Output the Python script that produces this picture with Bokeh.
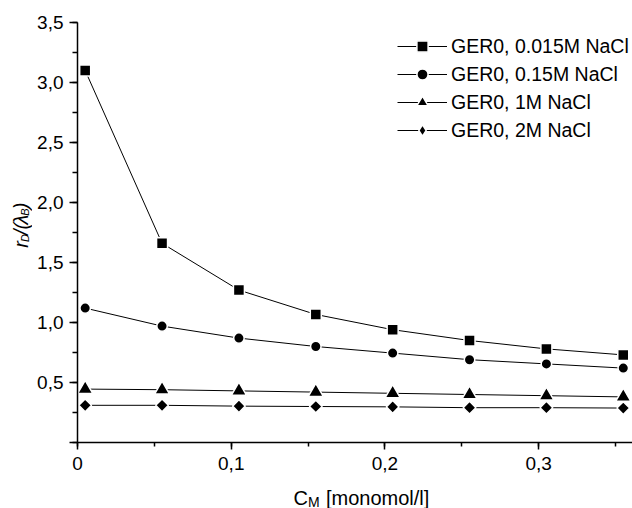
import numpy as np
from bokeh.plotting import figure
from bokeh.layouts import row, column
from bokeh.models import (Label, Legend, LegendItem, SingleIntervalTicker,
                          CustomJSTickFormatter, Range1d)
from bokeh.embed import file_html
from bokeh.resources import INLINE

FONT = "Liberation Sans"

# data
c_m = [0.005, 0.055, 0.105, 0.155, 0.205, 0.255, 0.305, 0.355]
ger0_0015 = [3.10, 1.66, 1.27, 1.067, 0.94, 0.85, 0.78, 0.73]
ger0_015 = [1.12, 0.97, 0.87, 0.80, 0.745, 0.69, 0.655, 0.62]
ger0_1 = [0.445, 0.44, 0.43, 0.42, 0.41, 0.40, 0.39, 0.38]
ger0_2 = [0.31, 0.31, 0.303, 0.30, 0.297, 0.29, 0.29, 0.287]
series_labels = ["GER0, 0.015M NaCl", "GER0, 0.15M NaCl", "GER0, 1M NaCl", "GER0, 2M NaCl"]

W, H = 632, 508
YLAB_W = 32
XLAB_H = 26
MAIN_H = H - XLAB_H

p = figure(width=W - YLAB_W, height=MAIN_H, output_backend="svg", toolbar_location=None,
           x_range=Range1d(0, 0.361), y_range=Range1d(0, 3.5),
           min_border_left=77 - YLAB_W, min_border_right=0, min_border_top=22,
           min_border_bottom=40)
p.outline_line_color = None
p.xgrid.visible = False
p.ygrid.visible = False

for ax in (p.xaxis[0], p.yaxis[0]):
    ax.axis_line_width = 1.5
    ax.axis_line_color = "black"
    ax.major_tick_in = 0
    ax.minor_tick_in = 0
    ax.major_tick_line_width = 1.5
    ax.minor_tick_line_width = 1.5
    ax.major_label_text_font = FONT
    ax.major_label_text_font_size = "19px"
    ax.major_label_text_color = "black"

p.xaxis[0].ticker = SingleIntervalTicker(interval=0.1, num_minor_ticks=2)
p.yaxis[0].ticker = SingleIntervalTicker(interval=0.5, num_minor_ticks=2)
p.xaxis[0].major_tick_out = 7
p.xaxis[0].minor_tick_out = 4
p.yaxis[0].major_tick_out = 8
p.yaxis[0].minor_tick_out = 5
p.xaxis[0].major_label_standoff = 7
p.yaxis[0].major_label_standoff = 6
p.xaxis[0].formatter = CustomJSTickFormatter(
    code="if (Math.abs(tick) < 1e-9) return '0'; return tick.toFixed(1).replace('.', ',');")
p.yaxis[0].formatter = CustomJSTickFormatter(
    code="if (Math.abs(tick) < 1e-9) return ''; return tick.toFixed(1).replace('.', ',');")

series = [ger0_0015, ger0_015, ger0_1, ger0_2]
markers = [("square", 11, 0.0), ("circle", 10.5, 0.0), ("triangle", 15, 0.0), ("square", 9, np.pi / 4)]
items = []
for ys, (mk, sz, ang), lab in zip(series, markers, series_labels):
    legend_marker = None
    if ang != 0.0:
        # zero-size twin used only for the upright diamond drawn in the legend
        legend_marker = p.scatter(c_m, ys, marker="diamond", size=0, fill_color="black",
                                  line_color="white", line_width=1.5)
    lr = p.line(c_m, ys, line_color="black", line_width=1)
    sr = p.scatter(c_m, ys, marker=mk, size=sz, angle=ang, fill_color="black",
                   line_color="white", line_width=1.5)
    items.append(LegendItem(label=lab, renderers=[lr, legend_marker or sr]))

legend = Legend(items=items, location=(320, 298), orientation="vertical",
                border_line_color=None, background_fill_alpha=0,
                glyph_width=50, glyph_height=28, label_height=28, spacing=0,
                padding=0, margin=0, label_standoff=4,
                label_text_font=FONT, label_text_font_size="19.5px", label_text_color="black")
p.add_layout(legend, "center")


def text_fig(width, height):
    f = figure(width=width, height=height, output_backend="svg", toolbar_location=None,
               x_range=Range1d(0, width), y_range=Range1d(0, height),
               x_axis_type=None, y_axis_type=None, min_border=0)
    f.outline_line_color = None
    f.xgrid.visible = False
    f.ygrid.visible = False
    return f


def lab(f, text, x, y, size, italic=False, angle=0.0):
    f.add_layout(Label(x=x, y=y, text=text,
                       text_font=FONT, text_font_size=f"{size}px",
                       text_font_style="italic" if italic else "normal",
                       angle=angle, text_baseline="alphabetic", text_align="left",
                       text_color="black"))


# y-axis title: r_D/(λ_B), rotated
yf = text_fig(YLAB_W, MAIN_H)
A = np.pi / 2
lab(yf, "r", 20, 223.5, 20, italic=True, angle=A)
lab(yf, "D", 24.5, 230.2, 11, italic=True, angle=A)
lab(yf, "/(", 20, 238.1, 20, italic=True, angle=A)
lab(yf, "λ", 20, 250.3, 20, italic=True, angle=A)
lab(yf, "B", 24.5, 260.3, 11, italic=True, angle=A)
lab(yf, ")", 20, 267.6, 20, italic=True, angle=A)

# x-axis title: C_M [monomol/l]
xf = text_fig(W, XLAB_H)
lab(xf, "C", 293, 11, 20)
lab(xf, "M", 307.5, 7, 14)
lab(xf, "[monomol/l]", 325.5, 11, 20)

layout = column(row(yf, p, spacing=0), xf, spacing=0)
open("out.html", "w").write(file_html(layout, INLINE))
